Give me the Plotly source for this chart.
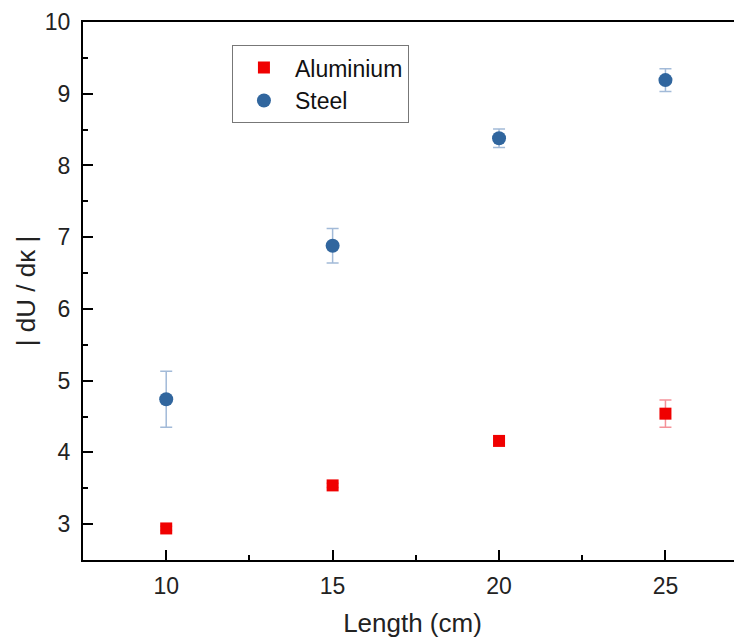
import plotly.graph_objects as go

length_cm = [10, 15, 20, 25]
aluminium = [2.94, 3.54, 4.16, 4.54]
aluminium_err = [0.03, 0.03, 0.03, 0.19]
steel = [4.74, 6.88, 8.38, 9.19]
steel_err = [0.39, 0.24, 0.13, 0.16]

FONT = "Liberation Sans, Arial, sans-serif"

fig = go.Figure()
fig.add_trace(go.Scatter(
    x=length_cm, y=aluminium, mode="markers", name="Aluminium",
    marker=dict(symbol="square", size=12, color="#f00000"),
    error_y=dict(type="data", array=aluminium_err, color="rgba(240,100,110,0.7)",
                 thickness=1.5, width=6),
))
fig.add_trace(go.Scatter(
    x=length_cm, y=steel, mode="markers", name="Steel",
    marker=dict(symbol="circle", size=14, color="#31669e"),
    error_y=dict(type="data", array=steel_err, color="rgba(100,140,190,0.6)",
                 thickness=1.5, width=6),
))

axis_common = dict(
    showline=True, linecolor="black", linewidth=2, mirror=True,
    ticks="inside", ticklen=10, tickwidth=2, tickcolor="black",
    showgrid=False, zeroline=False, automargin=False,
    tickfont=dict(family=FONT, size=23, color="#222"),
)

fig.update_xaxes(
    range=[7.5, 27.3], tickvals=[10, 15, 20, 25],
    minor=dict(tickvals=[12.5, 17.5, 22.5, 27.5], ticks="inside", ticklen=5, tickwidth=2, tickcolor="black"),
    title=dict(text="Length (cm)", font=dict(family=FONT, size=26, color="#222"), standoff=16),
    ticklabelstandoff=4,
    **axis_common,
)
fig.update_yaxes(
    range=[2.5, 10], tickvals=[3, 4, 5, 6, 7, 8, 9, 10],
    minor=dict(tickvals=[2.5, 3.5, 4.5, 5.5, 6.5, 7.5, 8.5, 9.5], ticks="inside", ticklen=5, tickwidth=2, tickcolor="black"),
    title=dict(text="| dU / dκ |", font=dict(family=FONT, size=26, color="#222"), standoff=2),
    ticklabelstandoff=6,
    **axis_common,
)

fig.update_layout(
    width=734, height=630,
    margin=dict(l=75, r=0, t=14, b=78),
    plot_bgcolor="white", paper_bgcolor="white",
    showlegend=True,
    legend=dict(
        x=0.226, y=0.957, xanchor="left", yanchor="top",
        bordercolor="#777", borderwidth=1, bgcolor="white",
        font=dict(family=FONT, size=23, color="#111"),
        itemwidth=52, tracegroupgap=0,
    ),
)

fig.write_html("out.html")
